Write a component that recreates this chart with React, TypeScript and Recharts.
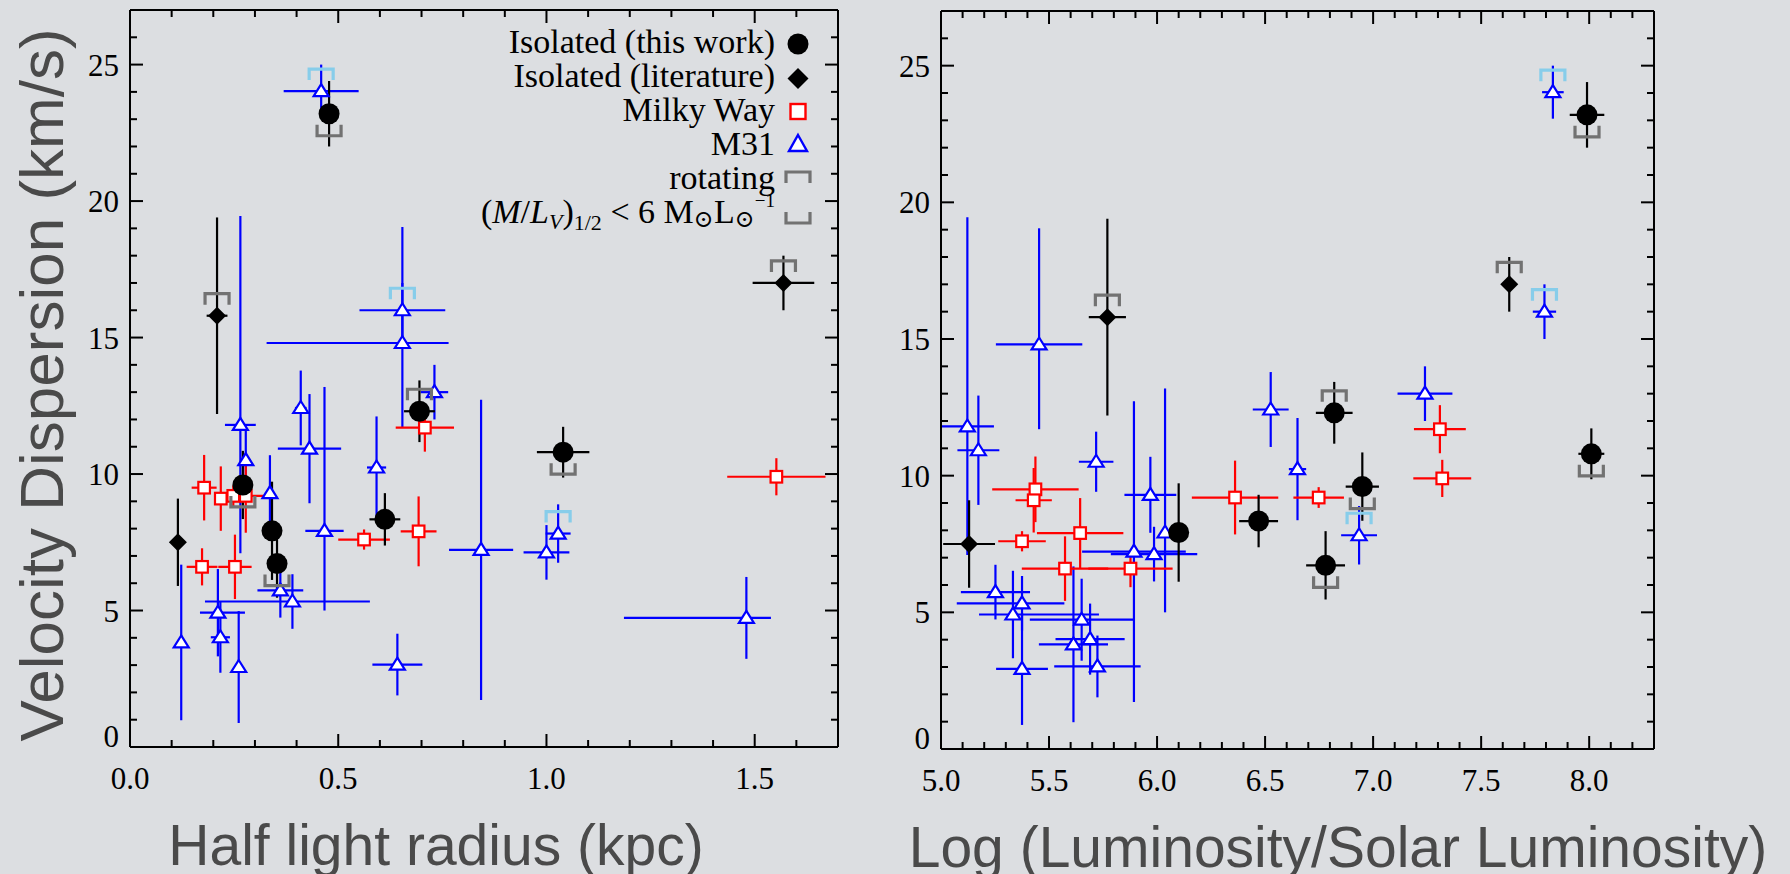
import React from 'react'
import { ScatterChart, Scatter, XAxis, YAxis, ErrorBar, Legend, Label } from 'recharts'

const BG = '#dcdee1'
const SERIF = "'Liberation Serif', 'Times New Roman', serif"
const SANS = "'Liberation Sans', Arial, Helvetica, sans-serif"
const TITLE = '#4a4a4a'
const GREY = '#727272'
const SKY = '#87cdea'

type Err = number | [number, number]

// Isolated dwarfs (this work)
const isoRad = [0.478, 0.695, 1.04, 0.271, 0.341, 0.353, 0.612]
const isoRadErr = [0.02, 0.037, 0.063, 0.012, 0.012, 0.012, 0.037]
const isoLum = [7.99, 6.82, 8.01, 6.95, 6.1, 6.78, 6.47]
const isoLumErr = [0.08, 0.085, 0.06, 0.077, 0.01, 0.09, 0.09]
const isoSig = [23.2, 12.3, 10.8, 9.6, 7.92, 6.72, 8.34]
const isoSigErr = [1.2, 1.13, 0.93, 1.25, 1.8, 1.25, 0.96]
const isoFlag = ['ml', 'rot', 'ml', 'ml', '', 'ml', '']

// Isolated dwarfs (literature)
const litRad = [0.209, 0.115, 1.569]
const litRadErr = [0.025, 0.01, 0.074]
const litLum = [5.77, 5.13, 7.63]
const litLumErr = [0.086, 0.12, 0.01]
const litSig = [15.8, 7.5, 17.0]
const litSigErr = [3.6, 1.6, 1.0]
const litFlag = ['rot', '', 'rot']

// Milky Way satellites
const mwRad = [0.178, 0.218, 0.562, 0.693, 0.252, 0.173, 0.278, 0.248, 0.708, 1.552]
const mwRadErr = [0.03, 0.01, 0.062, 0.043, 0.04, 0.037, 0.046, 0.01, 0.07, 0.118]
const mwLum = [5.437, 5.429, 5.375, 5.644, 5.574, 5.877, 6.361, 6.748, 7.309, 7.32]
const mwLumErr = [0.2, 0.084, 0.11, 0.2, 0.2, 0.195, 0.2, 0.117, 0.12, 0.134]
const mwSig = [9.5, 9.1, 7.6, 7.9, 6.6, 6.6, 9.2, 9.2, 11.7, 9.9]
const mwSigErr = [1.2, 1.18, 0.37, 1.28, 1.18, 0.68, 1.35, 0.38, 0.88, 0.68]

// M31 satellites
const m31Rad = [0.459, 0.654, 0.654, 0.731, 0.265, 0.278, 0.41, 0.431, 0.467, 0.592, 0.843,
  0.336, 0.361, 0.39, 0.211, 0.217, 0.261, 0.123, 0.642, 1.0, 1.028, 1.48]
const m31RadErr: Err[] = [0.09, 0.103, [0.326, 0.111], 0.033, 0.037, 0.012, 0.014, 0.076, 0.046,
  0.023, 0.077, 0.012, 0.055, [0.21, 0.186], [0.043, 0.065], 0.023, 0.01, 0.005, 0.06, 0.055,
  0.03, [0.294, 0.059]]
const m31Lum = [7.832, 7.793, 5.454, 7.24, 5.122, 5.718, 6.526, 5.173, 6.037, 6.65, 5.893,
  5.969, 5.252, 5.375, 5.333, 5.69, 5.375, 5.613, 5.724, 5.986, 6.935, 5.651]
const m31LumErr: Err[] = [0.05, 0.054, 0.2, 0.127, 0.123, 0.08, 0.083, 0.097, 0.023, 0.04, 0.24,
  0.12, 0.16, [0.302, 0.196], [0.157, 0.398], 0.16, 0.12, 0.16, 0.2, 0.2, 0.083, 0.24]
const m31Sig = [24.03, 16.0, 14.8, 13.0, 11.8, 10.51, 12.42, 10.93, 7.92, 10.24, 7.22,
  9.3, 5.74, 5.33, 4.92, 4.02, 2.93, 3.83, 3.02, 7.13, 7.82, 4.73]
const m31SigErr: Err[] = [0.97, 1.0, [3.1, 4.25], 1.0, [4.7, 7.65], 1.1, 1.37, 2.0, [2.92, 5.27],
  1.87, 5.5, 1.39, 1.0, 1.0, 1.6, 1.3, 2.05, 2.85, 1.13, 1.0, 1.07, 1.5]
const m31Flag = ['m31', 'm31', '', '', '', '', '', '', '', '', '', '', '', '', '', '', '', '', '', '', 'm31', '']

// axes
const radTicks = Array.from({ length: 18 }, (_, i) => +(i * 0.1).toFixed(1))
const lumTicks = Array.from({ length: 34 }, (_, i) => +(5 + i * 0.1).toFixed(1))
const sigTicks = Array.from({ length: 28 }, (_, i) => i)
const radMajors = [0, 0.5, 1.0, 1.5]
const lumMajors = [5.0, 5.5, 6.0, 6.5, 7.0, 7.5, 8.0]
const sigMajors = [0, 5, 10, 15, 20, 25]

const legendLabels = ['Isolated (this work)', 'Isolated (literature)', 'Milky Way', 'M31', 'rotating']

const pts = (xs: number[], xe: Err[], ys: number[], ye: Err[]) =>
  xs.map((x, i) => ({ x, y: ys[i], ex: xe[i], ey: ye[i] }))
const flagPts = (xs: number[], ys: number[], flags: string[]) =>
  xs.map((x, i) => ({ x, y: ys[i], kind: flags[i] })).filter((p) => p.kind)

const Circle = (p: any) => <circle cx={p.cx} cy={p.cy} r={10.5} fill="#000" />
const Diamond = (p: any) => (
  <path d={`M${p.cx},${p.cy - 9}L${p.cx + 9},${p.cy}L${p.cx},${p.cy + 9}L${p.cx - 9},${p.cy}Z`} fill="#000" />
)
const Square = (p: any) => (
  <rect x={p.cx - 5.8} y={p.cy - 5.8} width={11.6} height={11.6} fill="#fff" stroke="#f00" strokeWidth={2.2} />
)
const Triangle = (p: any) => (
  <path d={`M${p.cx},${p.cy - 7}L${p.cx + 7.5},${p.cy + 5}L${p.cx - 7.5},${p.cy + 5}Z`} fill="#fff" stroke="#00f" strokeWidth={2.2} />
)
const Bracket = (p: any) => {
  const kind = p.payload?.kind ?? p.kind
  const color = kind === 'm31' ? SKY : GREY
  const d = kind === 'ml'
    ? `M${p.cx - 12},${p.cy + 11}V${p.cy + 22}H${p.cx + 12}V${p.cy + 11}`
    : `M${p.cx - 12},${p.cy - 11}V${p.cy - 22}H${p.cx + 12}V${p.cy - 11}`
  return <path d={d} fill="none" stroke={color} strokeWidth={3.2} />
}

const isMajor = (v: number, majors: number[]) => majors.some((m) => Math.abs(m - v) < 1e-6)

function axisTick(side: 'bottom' | 'top' | 'left' | 'right', majors: number[], labelled: boolean) {
  return (p: any) => {
    const v = p.payload.value
    const major = isMajor(v, majors)
    const len = major ? 13 : 7
    const { x, y } = p
    const end =
      side === 'bottom' ? { x2: x, y2: y - len }
        : side === 'top' ? { x2: x, y2: y + len }
          : side === 'left' ? { x2: x + len, y2: y } : { x2: x - len, y2: y }
    return (
      <g>
        <line x1={x} y1={y} {...end} stroke="#000" strokeWidth={2} />
        {labelled && major && side === 'bottom' && (
          <text x={x} y={y + 42} textAnchor="middle" fontFamily={SERIF} fontSize={31} fill="#000">
            {v.toFixed(1)}
          </text>
        )}
        {labelled && major && side === 'left' && (
          <text x={x - 11} y={v === 0 ? y : y + 11} textAnchor="end" fontFamily={SERIF} fontSize={31} fill="#000">
            {v}
          </text>
        )}
      </g>
    )
  }
}

const axisLine = { stroke: '#000', strokeWidth: 2 }

function series(useLum: boolean) {
  const bx = useLum ? m31Lum : m31Rad
  const m31 = pts(bx, useLum ? m31LumErr : m31RadErr, m31Sig, m31SigErr)
  const mw = pts(useLum ? mwLum : mwRad, useLum ? mwLumErr : mwRadErr, mwSig, mwSigErr)
  const lit = pts(useLum ? litLum : litRad, useLum ? litLumErr : litRadErr, litSig, litSigErr)
  const iso = pts(useLum ? isoLum : isoRad, useLum ? isoLumErr : isoRadErr, isoSig, isoSigErr)
  const flags = [
    ...flagPts(useLum ? isoLum : isoRad, isoSig, isoFlag),
    ...flagPts(useLum ? litLum : litRad, litSig, litFlag),
    ...flagPts(bx, m31Sig, m31Flag),
  ]
  const groups = [
    { name: 'M31', data: m31, color: '#00f', shape: Triangle },
    { name: 'Milky Way', data: mw, color: '#f00', shape: Square },
    { name: 'lit', data: lit, color: '#000', shape: Diamond },
    { name: 'iso', data: iso, color: '#000', shape: Circle },
  ]
  return [
    ...groups.map((g) => (
      <Scatter key={g.name} name={g.name} data={g.data} xAxisId="b" yAxisId="l" shape={g.shape} isAnimationActive={false}>
        <ErrorBar dataKey="ex" direction="x" width={0} stroke={g.color} strokeWidth={2.2} isAnimationActive={false} />
        <ErrorBar dataKey="ey" direction="y" width={0} stroke={g.color} strokeWidth={2.2} isAnimationActive={false} />
      </Scatter>
    )),
    <Scatter key="flags" name="flags" data={flags} xAxisId="b" yAxisId="l" shape={Bracket} isAnimationActive={false} />,
  ]
}

function LegendBox() {
  const x = 775
  const mx = 798
  return (
    <svg width={880} height={300} style={{ position: 'absolute', left: 0, top: 0, overflow: 'visible' }}>
      {legendLabels.map((t, i) => (
        <text key={t} x={x} y={53 + i * 34} textAnchor="end" fontFamily={SERIF} fontSize={34} fill="#000">
          {t}
        </text>
      ))}
      <text x={x} y={223} textAnchor="end" fontFamily={SERIF} fontSize={34} fill="#000">
        <tspan>(</tspan>
        <tspan fontStyle="italic">M</tspan>
        <tspan>/</tspan>
        <tspan fontStyle="italic">L</tspan>
        <tspan fontStyle="italic" fontSize={22} dy={6}>V</tspan>
        <tspan dy={-6}>)</tspan>
        <tspan fontSize={22} dy={7}>1/2</tspan>
        <tspan dy={-7}>{' < 6 M'}</tspan>
        <tspan fontSize={24} dy={4} fontFamily="'DejaVu Serif', serif">⊙</tspan>
        <tspan dy={-4}>L</tspan>
        <tspan fontSize={24} dy={4} fontFamily="'DejaVu Serif', serif">⊙</tspan>
        <tspan fontSize={19} dy={-20}>−1</tspan>
      </text>
      <circle cx={mx} cy={44} r={10.5} fill="#000" />
      <path d={`M${mx},${68}L${mx + 10.5},${78.5}L${mx},${89}L${mx - 10.5},${78.5}Z`} fill="#000" />
      <rect x={mx - 7.5} y={104} width={15} height={15} fill="#fff" stroke="#f00" strokeWidth={2.4} />
      <path d={`M${mx},${135}L${mx + 9},${151}L${mx - 9},${151}Z`} fill="#fff" stroke="#00f" strokeWidth={2.4} />
      <path d={`M${mx - 12},${183}V${172}H${mx + 12}V${183}`} fill="none" stroke={GREY} strokeWidth={3.2} />
      <path d={`M${mx - 12},${212}V${223}H${mx + 12}V${212}`} fill="none" stroke={GREY} strokeWidth={3.2} />
    </svg>
  )
}

export default function App() {
  return (
    <div style={{ position: 'absolute', left: 0, top: 0, width: 1790, height: 874, background: BG, overflow: 'hidden' }}>
      <div style={{ position: 'absolute', left: 0, top: 0 }}>
        <ScatterChart width={880} height={874} margin={{ top: 0, right: 0, bottom: 0, left: 0 }}>
          <XAxis xAxisId="b" type="number" dataKey="x" domain={[0, 1.7]} ticks={radTicks} allowDataOverflow
            interval={0} height={127} tickSize={0} tickMargin={0} tickLine={false} axisLine={axisLine}
            tick={axisTick('bottom', radMajors, true)}>
            <Label content={() => (
              <text x={436} y={865} textAnchor="middle" fontFamily={SANS} fontSize={57} fill={TITLE}>
                Half light radius (kpc)
              </text>
            )} />
          </XAxis>
          <XAxis xAxisId="t" orientation="top" type="number" dataKey="x" domain={[0, 1.7]} ticks={radTicks}
            allowDataOverflow interval={0} height={10} tickSize={0} tickMargin={0} tickLine={false}
            axisLine={axisLine} tick={axisTick('top', radMajors, false)} />
          <YAxis yAxisId="l" type="number" dataKey="y" domain={[0, 27]} ticks={sigTicks} allowDataOverflow
            interval={0} width={130} tickSize={0} tickMargin={0} tickLine={false} axisLine={axisLine}
            tick={axisTick('left', sigMajors, true)}>
            <Label content={() => (
              <text x={63} y={385} transform="rotate(-90 63 385)" textAnchor="middle" fontFamily={SANS}
                fontSize={62} fill={TITLE}>
                Velocity Dispersion (km/s)
              </text>
            )} />
          </YAxis>
          <YAxis yAxisId="r" orientation="right" type="number" dataKey="y" domain={[0, 27]} ticks={sigTicks}
            allowDataOverflow interval={0} width={42} tickSize={0} tickMargin={0} tickLine={false}
            axisLine={axisLine} tick={axisTick('right', sigMajors, false)} />
          {series(false)}
          <Legend layout="horizontal" align="center" verticalAlign="middle" content={() => <LegendBox />}
            wrapperStyle={{ position: 'absolute', left: 0, top: 0, width: 880, height: 300, pointerEvents: 'none' }} />
        </ScatterChart>
      </div>
      <div style={{ position: 'absolute', left: 880, top: 0 }}>
        <ScatterChart width={910} height={874} margin={{ top: 0, right: 0, bottom: 0, left: 0 }}>
          <XAxis xAxisId="b" type="number" dataKey="x" domain={[5.0, 8.3]} ticks={lumTicks} allowDataOverflow
            interval={0} height={125} tickSize={0} tickMargin={0} tickLine={false} axisLine={axisLine}
            tick={axisTick('bottom', lumMajors, true)}>
            <Label content={() => (
              <text x={458} y={867} textAnchor="middle" fontFamily={SANS} fontSize={57} fill={TITLE}>
                Log (Luminosity/Solar Luminosity)
              </text>
            )} />
          </XAxis>
          <XAxis xAxisId="t" orientation="top" type="number" dataKey="x" domain={[5.0, 8.3]} ticks={lumTicks}
            allowDataOverflow interval={0} height={11} tickSize={0} tickMargin={0} tickLine={false}
            axisLine={axisLine} tick={axisTick('top', lumMajors, false)} />
          <YAxis yAxisId="l" type="number" dataKey="y" domain={[0, 27]} ticks={sigTicks} allowDataOverflow
            interval={0} width={61} tickSize={0} tickMargin={0} tickLine={false} axisLine={axisLine}
            tick={axisTick('left', sigMajors, true)} />
          <YAxis yAxisId="r" orientation="right" type="number" dataKey="y" domain={[0, 27]} ticks={sigTicks}
            allowDataOverflow interval={0} width={136} tickSize={0} tickMargin={0} tickLine={false}
            axisLine={axisLine} tick={axisTick('right', sigMajors, false)} />
          {series(true)}
        </ScatterChart>
      </div>
    </div>
  )
}
